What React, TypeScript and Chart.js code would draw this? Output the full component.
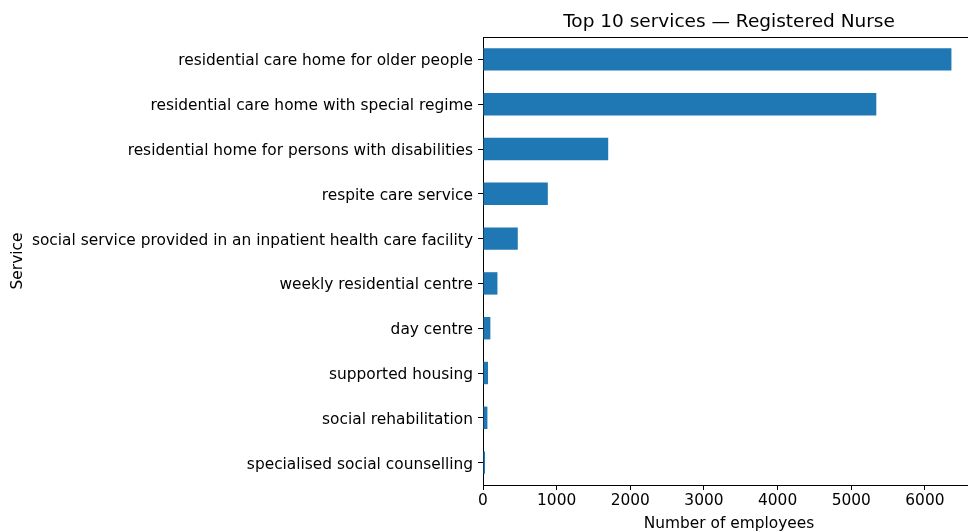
import React, { useEffect, useRef } from "react";
import { Chart, registerables } from "chart.js";

Chart.register(...registerables);

const categories = [
  "residential care home for older people",
  "residential care home with special regime",
  "residential home for persons with disabilities",
  "respite care service",
  "social service provided in an inpatient health care facility",
  "weekly residential centre",
  "day centre",
  "supported housing",
  "social rehabilitation",
  "specialised social counselling",
];
const values = [6360, 5340, 1700, 880, 472, 196, 100, 68, 60, 27];
const xTicks = [0, 1000, 2000, 3000, 4000, 5000, 6000];
const title = "Top 10 services \u2014 Registered Nurse";
const xLabel = "Number of employees";
const yLabel = "Service";
const xMax = 6680;

const FONT = "'DejaVu Sans', sans-serif";
const TICK_SIZE = 15.4;
const TITLE_SIZE = 18.5;

export default function App() {
  const ref = useRef<HTMLCanvasElement | null>(null);
  useEffect(() => {
    if (!ref.current) return;
    const framePlugin = {
      id: "frame",
      afterDraw(chart: any) {
        const { ctx, chartArea } = chart;
        ctx.save();
        ctx.strokeStyle = "#000";
        ctx.lineWidth = 1;
        ctx.beginPath();
        ctx.moveTo(chartArea.left, chartArea.top + 0.5);
        ctx.lineTo(chartArea.right, chartArea.top + 0.5);
        ctx.moveTo(chartArea.right - 0.5, chartArea.top);
        ctx.lineTo(chartArea.right - 0.5, chartArea.bottom);
        ctx.stroke();
        const cx = (chartArea.left + chartArea.right) / 2;
        ctx.fillStyle = "#000";
        ctx.textAlign = "center";
        ctx.textBaseline = "middle";
        ctx.font = `${TITLE_SIZE}px ${FONT}`;
        ctx.fillText(title, cx, 22);
        ctx.font = `${TICK_SIZE}px ${FONT}`;
        ctx.fillText(xLabel, cx, 524);
        ctx.restore();
      },
    };
    const chart = new Chart(ref.current, {
      type: "bar",
      data: {
        labels: categories,
        datasets: [
          {
            data: values,
            backgroundColor: "#1f77b4",
            barPercentage: 0.5,
            categoryPercentage: 1,
          },
        ],
      },
      options: {
        indexAxis: "y",
        animation: false,
        responsive: false,
        maintainAspectRatio: false,
        layout: { padding: { top: 37, left: 0, right: 0, bottom: 0 } },
        plugins: { legend: { display: false }, tooltip: { enabled: false }, title: { display: false } },
        scales: {
          x: {
            min: 0,
            max: xMax,
            afterBuildTicks: (s: any) => {
              s.ticks = xTicks.map((v) => ({ value: v }));
            },
            afterFit: (s: any) => {
              s.height = 47;
            },
            grid: {
              drawOnChartArea: false,
              drawTicks: true,
              tickLength: 5,
              tickColor: "#000",
              tickWidth: 1,
            },
            border: { color: "#000", width: 1 },
            ticks: {
              color: "#000",
              font: { family: FONT, size: TICK_SIZE },
              padding: 2,
              maxRotation: 0,
              autoSkip: false,
              callback: (v: any) => String(v),
            },
          },
          y: {
            afterFit: (s: any) => {
              s.width = 483;
            },
            grid: {
              offset: false,
              drawOnChartArea: false,
              drawTicks: true,
              tickLength: 5,
              tickColor: "#000",
              tickWidth: 1,
            },
            border: { color: "#000", width: 1 },
            ticks: { color: "#000", font: { family: FONT, size: TICK_SIZE }, padding: 5, autoSkip: false, labelOffset: 2 },
            title: { display: true, text: yLabel, color: "#000", font: { family: FONT, size: TICK_SIZE }, padding: { top: 9, bottom: 0 } },
          },
        },
      },
      plugins: [framePlugin],
    });
    return () => chart.destroy();
  }, []);
  return (
    <div style={{ position: "fixed", left: 0, top: 0, width: 968, height: 532, overflow: "hidden", background: "#fff" }}>
      <canvas ref={ref} width={975} height={532} style={{ display: "block", width: 975, height: 532 }} />
    </div>
  );
}
